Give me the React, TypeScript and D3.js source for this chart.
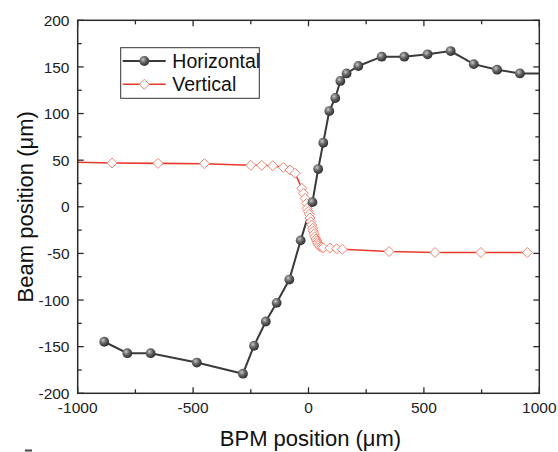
import React from "react";
import * as d3 from "d3";

const hX = [-885, -785, -684, -484, -284, -236, -185, -138, -83, -34, 17, 42, 64, 90, 116, 138, 165, 216, 317, 415, 516, 616, 716, 817, 916, 1016];
const hY = [-144.7, -157, -157, -167, -179, -149, -123, -103, -78, -36, 5, 40.5, 68.7, 102.7, 116.7, 135, 143, 151, 161, 161, 163.5, 167, 153, 147, 143, 143];

const vX = [-1050, -851, -652, -451, -250, -203, -155, -109, -80, -58, -29, -22, -15, -8, -6, -1, 3.5, 6.5, 10, 14, 18, 21, 25, 28, 32, 35.5, 39, 42.5, 46, 50, 57, 64, 93, 122, 146, 349, 548, 747, 948];
const vY = [48, 47, 46.6, 46.2, 44.5, 44.5, 44, 42.3, 39.5, 36, 19.8, 14.5, 9, 3.7, -1.6, -5, -8, -12, -16, -19.5, -23, -26, -29, -32, -34.5, -36.5, -38.5, -40, -41.5, -42.8, -43.5, -44, -44.3, -45, -45.6, -48, -49, -49, -49];

const xTicks = [-1000, -500, 0, 500, 1000];
const xMinor = [-750, -250, 250, 750];
const yTicks = [-200, -150, -100, -50, 0, 50, 100, 150, 200];
const yMinor = [-175, -125, -75, -25, 25, 75, 125, 175];

const W = 558, H = 452;
const L = 77.7, R = 539.3, T = 20.3, B = 393.3;

export default function App() {
  const x = d3.scaleLinear().domain([-1000, 1000]).range([L, R]);
  const y = d3.scaleLinear().domain([-200, 200]).range([B, T]);
  const hPts: [number, number][] = hX.map((v, i) => [x(v), y(hY[i])]);
  const vPts: [number, number][] = vX.map((v, i) => [x(v), y(vY[i])]);
  const line = d3.line();
  const font = "'Liberation Sans', Arial, sans-serif";
  const axisColor = "#2b2b2b";
  const diamond = (cx: number, cy: number, r: number) =>
    `M${cx},${cy - r}L${cx + r},${cy}L${cx},${cy + r}L${cx - r},${cy}Z`;
  const hVisible = hPts.filter((_, i) => hX[i] >= -1000 && hX[i] <= 1000);
  const vVisible = vPts.filter((_, i) => vX[i] >= -1000 && vX[i] <= 1000);
  return (
    <svg width={W} height={H} style={{ position: "absolute", left: 0, top: 0, background: "#fff" }}>
      <defs>
        <radialGradient id="ball" cx="38%" cy="35%" r="65%">
          <stop offset="0%" stopColor="#c8c8c8" />
          <stop offset="45%" stopColor="#6a6a6a" />
          <stop offset="100%" stopColor="#2e2e2e" />
        </radialGradient>
        <clipPath id="plot">
          <rect x={L} y={T} width={R - L} height={B - T} />
        </clipPath>
      </defs>
      <rect x={0} y={0} width={W} height={H} fill="#fff" />
      <g clipPath="url(#plot)">
        <path d={line(vPts) || ""} fill="none" stroke="#e8392c" strokeWidth={1.6} />
        <path d={line(hPts) || ""} fill="none" stroke="#3a3a3a" strokeWidth={2} />
        {vVisible.map((p, i) => (
          <path key={"v" + i} d={diamond(p[0], p[1], 5)} fill="#fff" stroke="#f4836f" strokeWidth={1} />
        ))}
        {hVisible.map((p, i) => (
          <circle key={"h" + i} cx={p[0]} cy={p[1]} r={4.9} fill="url(#ball)" />
        ))}
      </g>
      <rect x={L} y={T} width={R - L} height={B - T} fill="none" stroke={axisColor} strokeWidth={1.5} />
      {xTicks.map((t) => (
        <g key={"xt" + t}>
          <line x1={x(t)} x2={x(t)} y1={B} y2={B - 6} stroke={axisColor} strokeWidth={1.3} />
          <line x1={x(t)} x2={x(t)} y1={T} y2={T + 6} stroke={axisColor} strokeWidth={1.3} />
          <text x={x(t)} y={413} textAnchor="middle" fontFamily={font} fontSize={15.5} fill="#222">{t}</text>
        </g>
      ))}
      {xMinor.map((t) => (
        <g key={"xm" + t}>
          <line x1={x(t)} x2={x(t)} y1={B} y2={B - 4} stroke={axisColor} strokeWidth={1.3} />
          <line x1={x(t)} x2={x(t)} y1={T} y2={T + 4} stroke={axisColor} strokeWidth={1.3} />
        </g>
      ))}
      {yTicks.map((t) => (
        <g key={"yt" + t}>
          <line x1={L} x2={L + 6} y1={y(t)} y2={y(t)} stroke={axisColor} strokeWidth={1.3} />
          <line x1={R} x2={R - 6} y1={y(t)} y2={y(t)} stroke={axisColor} strokeWidth={1.3} />
          <text x={69.5} y={y(t)} dy="0.36em" textAnchor="end" fontFamily={font} fontSize={15.5} fill="#222">{t}</text>
        </g>
      ))}
      {yMinor.map((t) => (
        <g key={"ym" + t}>
          <line x1={L} x2={L + 4} y1={y(t)} y2={y(t)} stroke={axisColor} strokeWidth={1.3} />
          <line x1={R} x2={R - 4} y1={y(t)} y2={y(t)} stroke={axisColor} strokeWidth={1.3} />
        </g>
      ))}
      <text x={(L + R) / 2 + 2} y={446} textAnchor="middle" fontFamily={font} fontSize={22} fill="#111">BPM position (μm)</text>
      <text transform={`translate(33,${(T + B) / 2}) rotate(-90)`} textAnchor="middle" fontFamily={font} fontSize={22} fill="#111">Beam position (μm)</text>
      <rect x={120.7} y={47.7} width={138.6} height={50.6} fill="#fff" stroke="#333" strokeWidth={1} />
      <line x1={122.7} x2={165.7} y1={61} y2={61} stroke="#3a3a3a" strokeWidth={2} />
      <circle cx={144.3} cy={61} r={4.9} fill="url(#ball)" />
      <text x={172.3} y={67.5} fontFamily={font} fontSize={19.5} fill="#111">Horizontal</text>
      <line x1={122.7} x2={165.7} y1={84.3} y2={84.3} stroke="#e8392c" strokeWidth={1.6} />
      <path d={diamond(144.3, 84.3, 5)} fill="#fff" stroke="#f4836f" strokeWidth={1} />
      <text x={172.3} y={91} fontFamily={font} fontSize={19.5} fill="#111">Vertical</text>
      <rect x={25} y={449.5} width={7} height={2} fill="#444" />
    </svg>
  );
}
